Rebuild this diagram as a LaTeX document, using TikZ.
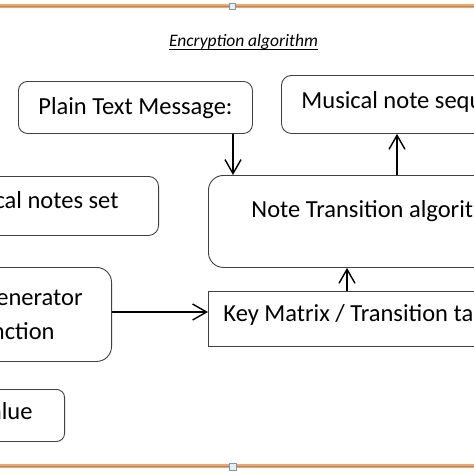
\documentclass[tikz,border=0pt]{standalone}
\usepackage{fontspec}
\setmainfont{Carlito}
\usetikzlibrary{arrows.meta}
\definecolor{boxgray}{RGB}{64,64,64}
\definecolor{frameorange}{RGB}{233,168,112}
\definecolor{framebrown}{RGB}{196,128,78}
\definecolor{handlefill}{RGB}{222,240,248}
\definecolor{handledraw}{RGB}{128,150,170}
\begin{document}
\begin{tikzpicture}[x=1pt, y=-1pt,
		>={Straight Barb[length=14pt, width=16pt]},
		box/.style={draw=boxgray, line width=0.9pt, rounded corners=9pt, inner ysep=0pt,
			font=\fontsize{24.5}{33.5}\selectfont},
		arr/.style={->, line width=1.4pt},
		handle/.style={draw=handledraw, fill=handlefill, line width=0.6pt}]
	% Definizioni per la cornice
	\def\Ytop{6}
	\def\Ybot{466}
	
	\useasboundingbox (0,0) rectangle (474,474);
	\clip (0,0) rectangle (474,474);
	
	% --- Cornice ---
	\draw[frameorange, line width=3.5pt] (0,\Ytop) -- (474,\Ytop);
	\draw[framebrown, line width=0.8pt] (0,\Ytop) -- (474,\Ytop);
	\draw[frameorange, line width=3.5pt] (0,\Ybot) -- (474,\Ybot);
	\draw[framebrown, line width=0.8pt] (0,\Ybot) -- (474,\Ybot);
	\draw[handle] (229.5,3) rectangle (235.5,9);
	\draw[handle] (229.5,463) rectangle (236.5,470);
	
	% --- Titolo ---
	\node[inner sep=0pt, anchor=base, font=\fontsize{17.5}{20}\selectfont\itshape] (title) at (243.5,46.7) {Encryption algorithm};
	\draw[line width=0.7pt] ([yshift=-2.6pt]title.base west) -- ([yshift=-2.6pt]title.base east);
	
	% --- Blocchi ---
	\node[box, anchor=north west, minimum width=234pt, text height=33pt, text depth=19pt] (plain) at (18,81) {Plain Text Message:};
	\node[box, anchor=north west, inner xsep=20pt, rounded corners=10pt, text height=33pt, text depth=25pt] (seq) at (281,75) {Musical note sequence};
	\node[box, anchor=north west, inner xsep=43pt, rounded corners=15pt, text height=42pt, text depth=50pt] (note) at (208,175) {Note Transition algorithm};
	\node[box, anchor=north east, inner xsep=40pt, rounded corners=10pt, text height=32pt, text depth=27pt] (set) at (159,176) {Musical notes set};
	\node[box, anchor=north east, inner xsep=29pt, rounded corners=15pt, minimum height=94pt, align=center] (gen) at (112,267) {Key Generator\\Function};
	\node[box, anchor=north west, inner xsep=15pt, rounded corners=0pt, text height=30pt, text depth=25pt] (key) at (208,291) {Key Matrix / Transition table};
	\node[box, anchor=north east, inner xsep=32pt, rounded corners=8pt, text height=30pt, text depth=22pt] (val) at (65,389) {Seed Value};
	
	% --- Frecce ---
	\coordinate (xa) at (233,0);
	\coordinate (xb) at (397,0);
	\coordinate (xc) at (347,0);
	\coordinate (ya) at (0,312);
	\draw[arr] (plain.south -| xa) -- (note.north -| xa);
	\draw[arr] (note.north -| xb) -- (seq.south -| xb);
	\draw[arr] (key.north -| xc) -- (note.south -| xc);
	\draw[arr] (gen.east |- ya) -- (key.west |- ya);
\end{tikzpicture}
\end{document}
